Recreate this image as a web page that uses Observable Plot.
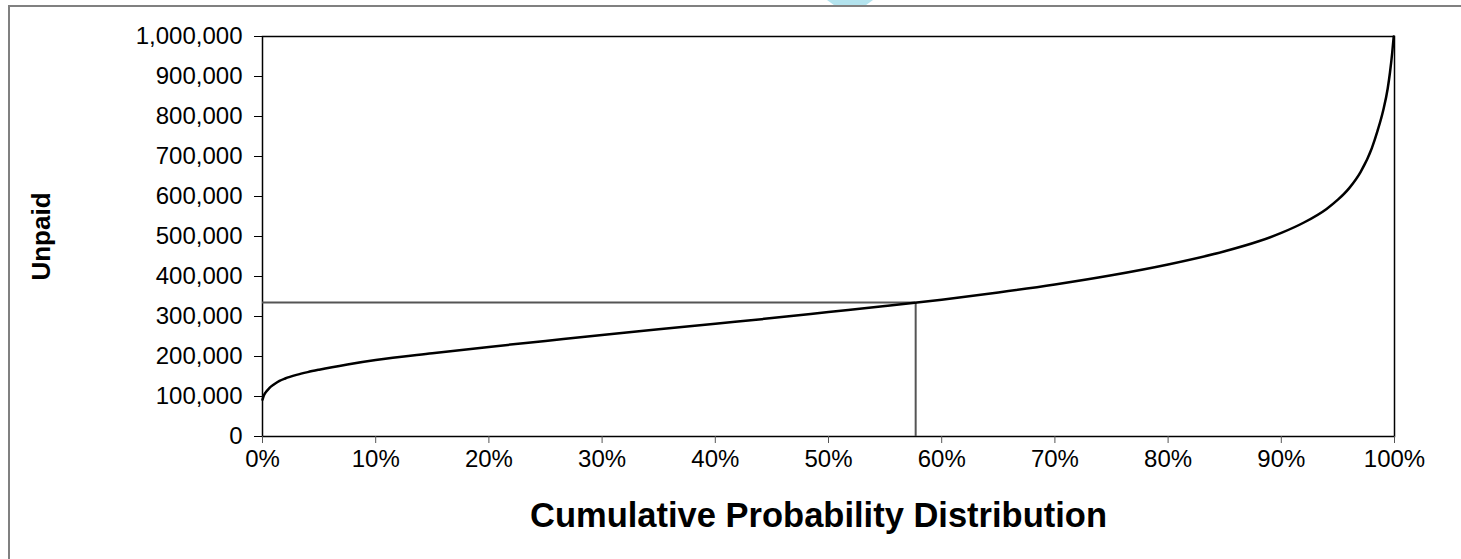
<!DOCTYPE html>
<html><head><meta charset="utf-8">
<script src="https://cdn.jsdelivr.net/npm/d3@7"></script>
<script src="https://cdn.jsdelivr.net/npm/@observablehq/plot@0.6"></script>
<style>
body{margin:0;background:#fff;}
#wrap{position:relative;width:1461px;height:559px;overflow:hidden;background:#fff;}
#chart{position:absolute;left:0;top:0;}
#frame{position:absolute;left:8px;top:5px;width:1500px;height:600px;border-left:2px solid #808080;border-top:2px solid #808080;pointer-events:none;}
#deco{position:absolute;left:827px;top:0;width:46px;height:5px;background:#b3e3ee;clip-path:polygon(0 0,100% 0,85% 100%,15% 100%);}
</style></head><body>
<div id="wrap"><div id="chart"></div><div id="frame"></div><div id="deco"></div></div>
<script>
const prob   = [0, 0.001, 0.003, 0.006, 0.01, 0.015, 0.02, 0.03, 0.04, 0.05, 0.075, 0.10, 0.15, 0.20, 0.25, 0.30, 0.35, 0.40, 0.45, 0.50, 0.55, 0.60, 0.65, 0.70, 0.75, 0.80, 0.85, 0.88, 0.90, 0.92, 0.94, 0.95, 0.96, 0.97, 0.98, 0.985, 0.99, 0.994, 0.996, 0.998, 0.9993];
const unpaid = [92000, 101000, 111000, 121000, 130000, 139000, 145000, 154000, 161000, 167000, 180000, 191000, 208000, 224000, 239000, 254000, 268000, 282000, 296000, 311000, 326000, 342000, 360000, 380000, 403000, 430000, 463000, 488000, 509000, 535000, 569000, 592000, 621000, 661000, 721000, 764000, 815000, 870000, 910000, 960000, 1000000];
const markerProb = 0.577;
const markerValue = 335000;
const xTicks = [0, 0.1, 0.2, 0.3, 0.4, 0.5, 0.6, 0.7, 0.8, 0.9, 1.0];
const yTicks = [0, 100000, 200000, 300000, 400000, 500000, 600000, 700000, 800000, 900000, 1000000];
const xTitle = "Cumulative Probability Distribution";
const yTitle = "Unpaid";

const data = prob.map((p, i) => ({p, v: unpaid[i]}));

const chart = Plot.plot({
  width: 1461,
  height: 559,
  marginLeft: 262,
  marginRight: 67,
  marginTop: 36,
  marginBottom: 123,
  style: {background: "transparent", fontFamily: "Liberation Sans, Arial, sans-serif", color: "black"},
  x: {domain: [0, 1]},
  y: {domain: [0, 1000000]},
  marks: [
    Plot.frame({stroke: "black", strokeWidth: 1.5}),
    Plot.axisY({ticks: yTicks, tickFormat: d3.format(","), tickSize: 8, tickPadding: 12, fontSize: 24, label: null, stroke: "black"}),
    Plot.axisX({ticks: xTicks, tickFormat: d3.format(".0%"), tickSize: 7, tickPadding: 6, fontSize: 24, label: null, stroke: "#555"}),
    Plot.ruleY([markerValue], {x1: 0, x2: markerProb, stroke: "#555", strokeWidth: 2}),
    Plot.ruleX([markerProb], {y1: 0, y2: markerValue, stroke: "#555", strokeWidth: 2}),
    Plot.line(data, {x: "p", y: "v", stroke: "black", strokeWidth: 2.5, curve: "monotone-x"}),
    Plot.text([yTitle], {frameAnchor: "left", dx: -221, rotate: -90, textAnchor: "middle", lineAnchor: "middle", fontSize: 26, fontWeight: "bold", fill: "black"}),
    Plot.text([xTitle], {frameAnchor: "bottom", dx: -10, dy: 79, lineAnchor: "middle", fontSize: 34.5, fontWeight: "bold", fill: "black"})
  ]
});
document.getElementById("chart").appendChild(chart);
</script>
</body></html>
